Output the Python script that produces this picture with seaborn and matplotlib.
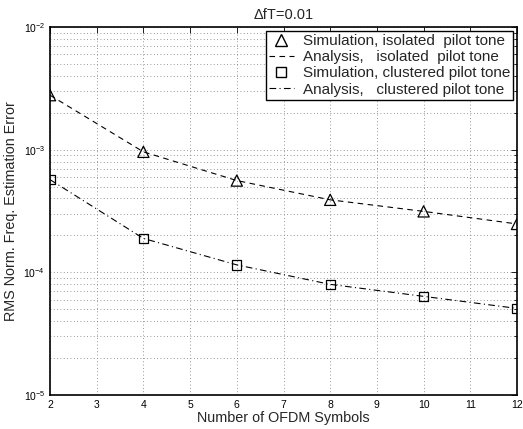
import numpy as np
import pandas as pd
import matplotlib
matplotlib.use("Agg")
import matplotlib.pyplot as plt
import seaborn as sns
from matplotlib.ticker import LogLocator, NullFormatter
from matplotlib.lines import Line2D

n_symbols = [2, 4, 6, 8, 10, 12]
sim_isolated = [2.78e-3, 9.6e-4, 5.6e-4, 3.9e-4, 3.14e-4, 2.48e-4]
ana_isolated = [2.78e-3, 9.6e-4, 5.6e-4, 3.9e-4, 3.14e-4, 2.48e-4]
sim_clustered = [5.7e-4, 1.89e-4, 1.15e-4, 7.98e-5, 6.37e-5, 5.08e-5]
ana_clustered = [5.7e-4, 1.89e-4, 1.15e-4, 7.98e-5, 6.37e-5, 5.08e-5]
x_ticks = [2, 3, 4, 5, 6, 7, 8, 9, 10, 11, 12]

sns.set_style("white")
plt.rcParams['font.family'] = ['Liberation Sans', 'DejaVu Sans']

fig = plt.figure(figsize=(5.23, 4.29), dpi=100)
ax = fig.add_axes([50/523, 1-395/429, 467/523, 368/429])

df_ai = pd.DataFrame({"N": n_symbols, "v": ana_isolated})
df_ac = pd.DataFrame({"N": n_symbols, "v": ana_clustered})
df_si = pd.DataFrame({"N": n_symbols, "v": sim_isolated})
df_sc = pd.DataFrame({"N": n_symbols, "v": sim_clustered})

sns.lineplot(data=df_ai, x="N", y="v", ax=ax, color="black", lw=0.8,
             linestyle=(0, (5, 4)))
sns.lineplot(data=df_ac, x="N", y="v", ax=ax, color="black", lw=0.8,
             linestyle=(0, (6, 3, 1, 3)))
sns.scatterplot(data=df_si, x="N", y="v", ax=ax, marker="^", s=65,
                facecolor="none", edgecolor="black", linewidth=0.9, zorder=5)
sns.scatterplot(data=df_sc, x="N", y="v", ax=ax, marker="s", s=45,
                facecolor="none", edgecolor="black", linewidth=0.9, zorder=5)

ax.set_yscale("log")
ax.set_xlim(2, 12)
ax.set_ylim(1e-5, 1e-2)
ax.set_xticks(x_ticks)
ax.set_xticklabels([str(t) for t in x_ticks])
ax.yaxis.set_major_locator(LogLocator(base=10, numticks=10))
ax.yaxis.set_minor_locator(LogLocator(base=10, subs=np.arange(2, 10), numticks=20))
ax.yaxis.set_minor_formatter(NullFormatter())

gcol = "#777777"
ax.grid(True, which="major", axis="both", color=gcol, linestyle=(0, (1, 3)), lw=0.6)
ax.grid(True, which="minor", axis="y", color=gcol, linestyle=(0, (1, 3)), lw=0.6)

ax.tick_params(axis="both", which="both", direction="in", top=True, right=True,
               labelsize=7.5, colors="black")
ax.tick_params(which="major", length=4, width=0.6)
ax.tick_params(which="minor", length=2, width=0.6)
for sp in ax.spines.values():
    sp.set_color("black")
    sp.set_linewidth(1.2)

ax.set_xlabel("Number of OFDM Symbols", fontsize=10.4, labelpad=1)
ax.set_ylabel("RMS Norm. Freq. Estimation Error", fontsize=10.4, labelpad=4)
ax.set_title("ΔfT=0.01", fontsize=10.5, pad=6)

handles = [
    Line2D([], [], marker="^", ls="none", markerfacecolor="none", markeredgecolor="black", markersize=8),
    Line2D([], [], color="black", lw=0.8, linestyle=(0, (5, 4))),
    Line2D([], [], marker="s", ls="none", markerfacecolor="none", markeredgecolor="black", markersize=6.5),
    Line2D([], [], color="black", lw=0.8, linestyle=(0, (6, 3, 1, 3))),
]
labels = ["Simulation, isolated  pilot tone",
          "Analysis,   isolated  pilot tone",
          "Simulation, clustered pilot tone",
          "Analysis,   clustered pilot tone"]
leg = ax.legend(handles, labels, loc="upper right", fontsize=11, frameon=True,
                fancybox=False, edgecolor="black", framealpha=1,
                borderpad=0.2, labelspacing=0.15, handlelength=1.6,
                handletextpad=0.6, borderaxespad=0.25)
leg.get_frame().set_linewidth(1.0)

fig.savefig("out.png", dpi=100)
